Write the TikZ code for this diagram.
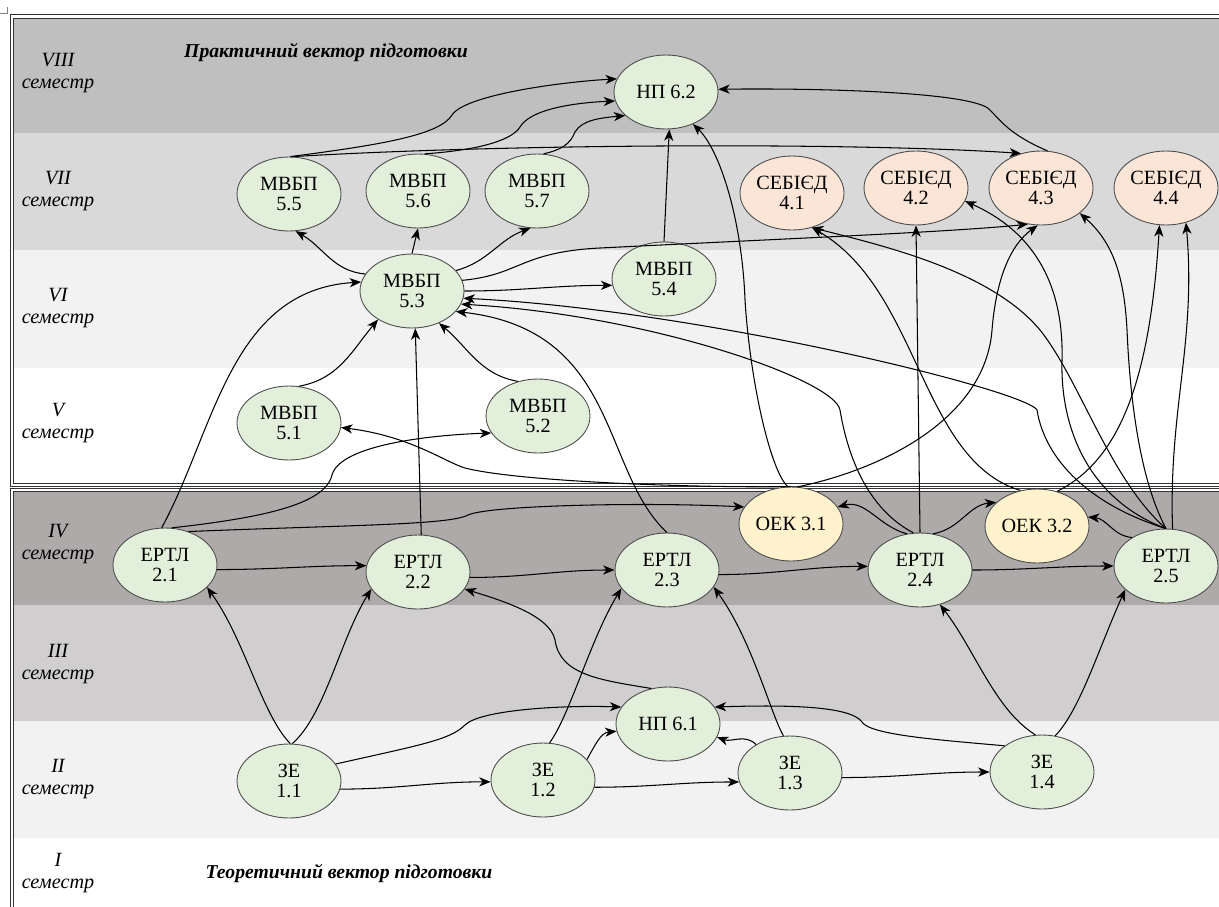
\documentclass[tikz,border=0pt]{standalone}
\usepackage{fontspec}
\setmainfont{Liberation Serif}
\usetikzlibrary{arrows.meta,shapes.geometric}
\definecolor{ngreen}{HTML}{E2EFDA}
\definecolor{npeach}{HTML}{FBE5D6}
\definecolor{nyellow}{HTML}{FFF2CC}
\definecolor{bviii}{HTML}{BFBFBF}
\definecolor{bvii}{HTML}{D9D9D9}
\definecolor{bvi}{HTML}{F2F2F2}
\definecolor{biv}{HTML}{AEAAAA}
\definecolor{biii}{HTML}{D0CECE}
\definecolor{bii}{HTML}{F2F2F2}
\tikzset{
  nd/.style={ellipse, draw=black!70, line width=0.5pt, minimum width=2.08cm, minimum height=1.48cm,
    inner sep=0pt, align=center, font=\fontsize{11.5}{11.8}\selectfont},
  gn/.style={nd, fill=ngreen},
  pk/.style={nd, fill=npeach},
  yl/.style={nd, fill=nyellow},
  ar/.style={-{Stealth[length=6.5pt,width=5.2pt,inset=1.9pt]}, line width=0.6pt, black},
  sem/.style={font=\fontsize{11.5}{12.2}\selectfont\itshape, align=center},
  ttl/.style={font=\fontsize{11.2}{12}\selectfont\bfseries\itshape},
  frm/.style={double, double distance=1.6pt, line width=0.45pt, draw=black!80}
}
\begin{document}
\begin{tikzpicture}[x=0.02cm,y=-0.02cm]
\useasboundingbox (0,0) rectangle (1219,906);
\clip (0,0) rectangle (1219,906);
% bands
\fill[bviii] (12,16) rectangle (1219,133);
\fill[bvii] (12,133) rectangle (1219,250);
\fill[bvi] (12,250) rectangle (1219,368);
\fill[biv] (12,489) rectangle (1219,605);
\fill[biii] (12,605) rectangle (1219,721);
\fill[bii] (12,721) rectangle (1219,838);
% frames
\draw[frm] (12,16.5) rectangle (1240,485);
\draw[frm] (12,490) rectangle (1240,930);
\draw[black!50, line width=0.4pt] (0,13) -- (7,13) -- (7,7);
% semester labels
\node[sem] (l8) at (58,73) {VIII\\семестр};
\node[sem] (l7) at (58,191) {VII\\семестр};
\node[sem] (l6) at (58,308) {VI\\семестр};
\node[sem] (l5) at (58,423) {V\\семестр};
\node[sem] (l4) at (58,544) {IV\\семестр};
\node[sem] (l3) at (58,664) {III\\семестр};
\node[sem] (l2) at (58,779) {II\\семестр};
\node[sem] (l1) at (58,873) {I\\семестр};
\node[ttl] (t1) at (326,53) {Практичний вектор підготовки};
\node[ttl] (t2) at (349,873) {Теоретичний вектор підготовки};
% nodes
\node[gn] (np62) at (666,92) {НП 6.2};
\node[gn] (m55) at (289,194) {МВБП\\5.5};
\node[gn] (m56) at (418,191) {МВБП\\5.6};
\node[gn] (m57) at (537,191) {МВБП\\5.7};
\node[pk] (s41) at (792,193) {СЕБІЄД\\4.1};
\node[pk] (s42) at (916,188) {СЕБІЄД\\4.2};
\node[pk] (s43) at (1041,188) {СЕБІЄД\\4.3};
\node[pk] (s44) at (1166,188) {СЕБІЄД\\4.4};
\node[gn] (m53) at (412,291) {МВБП\\5.3};
\node[gn] (m54) at (664,279) {МВБП\\5.4};
\node[gn] (m51) at (289,423) {МВБП\\5.1};
\node[gn] (m52) at (538,416) {МВБП\\5.2};
\node[gn] (e21) at (165,565) {ЕРТЛ\\2.1};
\node[gn] (e22) at (418,572) {ЕРТЛ\\2.2};
\node[gn] (e23) at (667,570) {ЕРТЛ\\2.3};
\node[yl] (o31) at (791,524) {ОЕК 3.1};
\node[gn] (e24) at (920,570) {ЕРТЛ\\2.4};
\node[yl] (o32) at (1037,526) {ОЕК 3.2};
\node[gn] (e25) at (1166,566) {ЕРТЛ\\2.5};
\node[gn] (np61) at (668,724) {НП 6.1};
\node[gn] (z11) at (289,781) {ЗЕ\\1.1};
\node[gn] (z12) at (543,780) {ЗЕ\\1.2};
\node[gn] (z13) at (790,773) {ЗЕ\\1.3};
\node[gn] (z14) at (1042,772) {ЗЕ\\1.4};
% straight-ish chains
\draw[ar] (e21.-5) to[out=0,in=180] (e22.173);
\draw[ar] (e22.-6) to[out=0,in=180] (e23.180);
\draw[ar] (e23.-5) to[out=0,in=180] (e24.176);
\draw[ar] (e24.0) to[out=0,in=180] (e25.180);
\draw[ar] (z11.-9) to[out=0,in=180] (z12.182);
\draw[ar] (z12.-8) to[out=0,in=180] (z13.190);
\draw[ar] (z13.-5) to[out=0,in=180] (z14.180);
% ZE to ERTL / NP6.1
\draw[ar] (z11.88) .. controls (262,715) and (245,640) .. (e21.-28);
\draw[ar] (z11.85) .. controls (325,715) and (340,640) .. (e22.-160);
\draw[ar] (z11.20) .. controls (420,745) and (450,740) .. (465,725) .. controls (480,710) and (560,705) .. (np61.160);
\draw[ar] (z12.80) .. controls (570,715) and (590,640) .. (e23.-158);
\draw[ar] (z12.25) to[out=60,in=185] (np61.188);
\draw[ar] (z13.140) to[out=135,in=-20] (np61.-15);
\draw[ar] (z13.100) .. controls (770,712) and (752,640) .. (e23.-20);
\draw[ar] (z14.145) .. controls (940,740) and (870,735) .. (862,722) .. controls (850,705) and (780,705) .. (np61.20);
\draw[ar] (z14.100) .. controls (995,710) and (975,650) .. (e24.-60);
\draw[ar] (z14.70) .. controls (1080,710) and (1098,650) .. (e25.-150);
\draw[ar] (np61.115) .. controls (600,680) and (560,675) .. (555,640) .. controls (550,615) and (500,600) .. (e22.-20);
% ERTL 2.1
\draw[ar] (e21.95) .. controls (215,430) and (230,290) .. (m53.170);
\draw[ar] (e21.80) .. controls (260,518) and (325,505) .. (332,475) .. controls (340,445) and (430,435) .. (m52.200);
\draw[ar] (e21.55) .. controls (350,525) and (450,525) .. (468,515) .. controls (490,505) and (650,502) .. (o31.160);
% into MVBP 5.3
\draw[ar] (e22.85) -- (m53.-85);
\draw[ar] (e23.north) .. controls (600,470) and (620,330) .. (m53.-25);
\draw[ar] (e24.100) .. controls (860,505) and (845,440) .. (840,410) .. controls (835,380) and (650,315) .. (m53.-15);
\draw[ar] (e25.north) .. controls (1090,505) and (1045,460) .. (1037,410) .. controls (1025,390) and (700,310) .. (m53.-8);
\draw[ar] (m51.75) to[out=10,in=-130] (m53.-140);
\draw[ar] (m52.120) to[out=170,in=-40] (m53.-50);
% out of 5.3
\draw[ar] (m53.east) to[out=0,in=180] (m54.187);
\draw[ar] (m53.25) to[out=15,in=200] (m57.-100);
\draw[ar] (m53.north) -- (m56.south);
\draw[ar] (m53.160) to[out=175,in=-30] (m55.-80);
\draw[ar] (m53.12) .. controls (520,275) and (520,252) .. (600,248) .. controls (800,238) and (950,232) .. (s43.-110);
% ERTL 2.4
\draw[ar] (e24.north) -- (s42.south);
\draw[ar] (e24.110) to[out=165,in=15] (o31.20);
\draw[ar] (e24.70) to[out=10,in=185] (o32.150);
% ERTL 2.5
\draw[ar] (e25.140) to[out=175,in=-5] (o32.10);
\draw[ar] (e25.80) to[out=92,in=-85] (s44.-60);
\draw[ar] (e25.north) .. controls (1090,500) and (1060,430) .. (1062,360) .. controls (1064,280) and (1030,230) .. (s42.-15);
\draw[ar] (e25.north) .. controls (1140,480) and (1130,400) .. (1127,330) .. controls (1124,270) and (1110,240) .. (s43.-33);
\draw[ar] (e25.north) .. controls (1110,480) and (1080,380) .. (1040,330) .. controls (990,270) and (880,245) .. (s41.-60);
% OEK
\draw[ar] (o32.60) .. controls (1120,460) and (1150,380) .. (s44.-100);
\draw[ar] (o32.115) .. controls (920,460) and (920,290) .. (s41.-60);
\draw[ar] (o31.north) .. controls (700,488) and (520,482) .. (465,468) .. controls (445,462) and (410,436) .. (m51.-5);
\draw[ar] (o31.80) .. controls (880,470) and (985,420) .. (992,330) .. controls (996,280) and (1010,245) .. (s43.-95);
\draw[ar] (o31.95) .. controls (770,470) and (750,380) .. (745,300) .. controls (742,220) and (720,150) .. (np62.-50);
% into NP 6.2
\draw[ar] (m54.north) -- (np62.-85);
\draw[ar] (m55.88) .. controls (380,145) and (440,135) .. (452,115) .. controls (465,95) and (560,82) .. (np62.165);
\draw[ar] (m55.85) .. controls (500,144) and (850,142) .. (s43.120);
\draw[ar] (m56.80) .. controls (480,150) and (512,140) .. (520,127) .. controls (530,110) and (570,103) .. (np62.190);
\draw[ar] (m57.80) .. controls (560,150) and (570,145) .. (575,132) .. controls (582,120) and (600,118) .. (np62.-150);
\draw[ar] (s43.80) .. controls (1010,135) and (1000,120) .. (990,110) .. controls (975,92) and (820,88) .. (np62.3);
\end{tikzpicture}
\end{document}
